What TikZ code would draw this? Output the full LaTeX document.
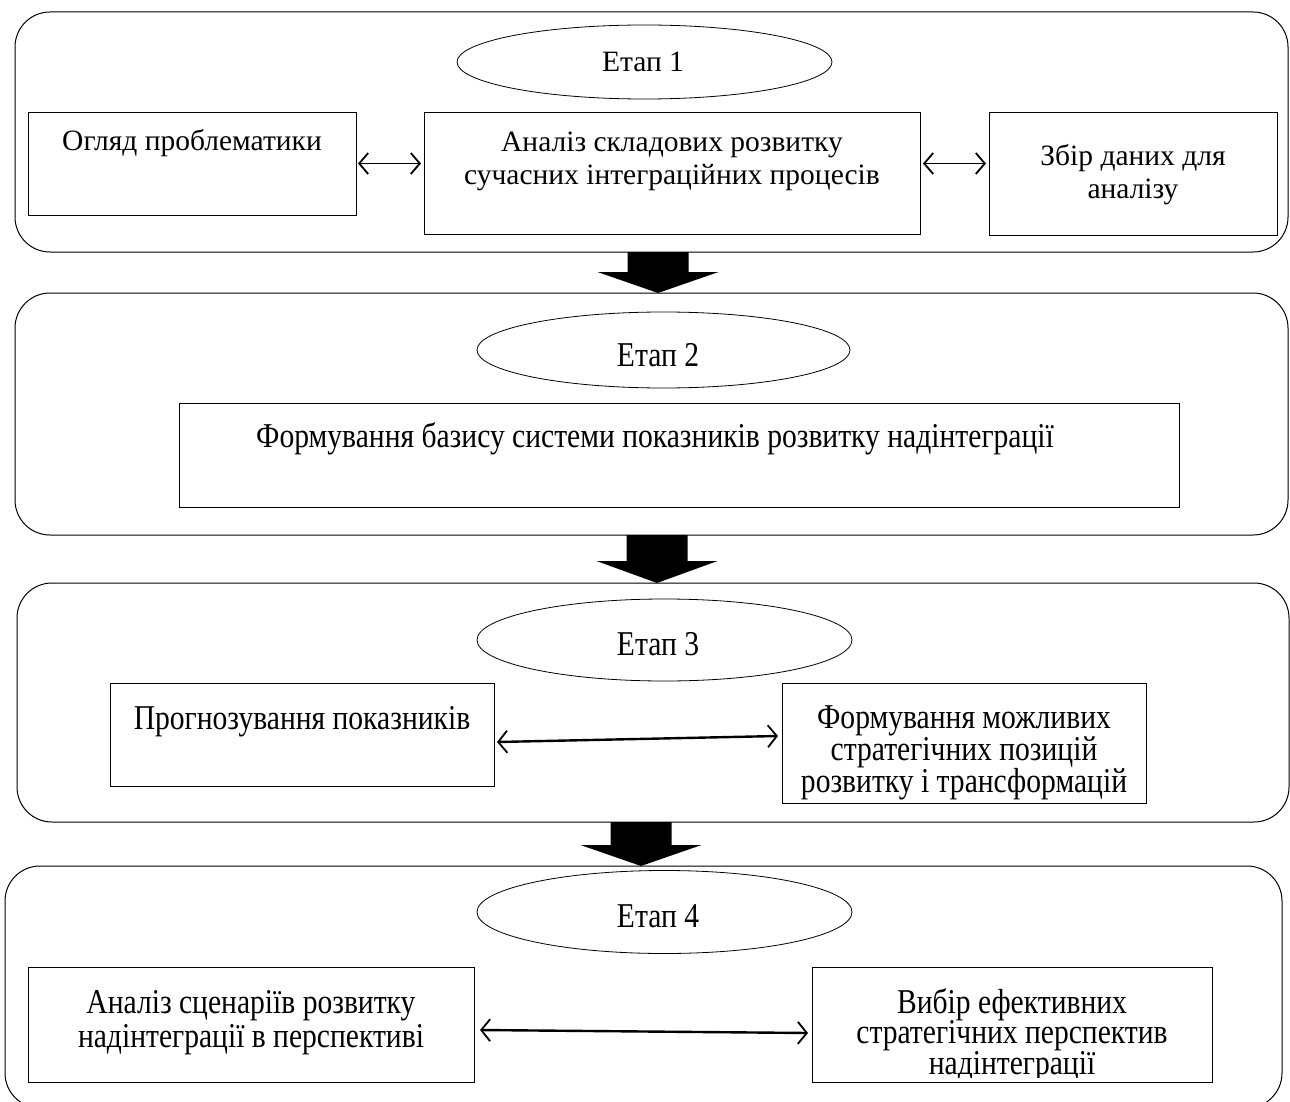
\documentclass[tikz,border=0pt]{standalone}
\usepackage{fontspec}
\setmainfont{Liberation Serif}
\newfontfamily\tallfont[FakeStretch=0.85]{Liberation Serif}
\usetikzlibrary{shapes.geometric,arrows.meta,calc}
\newcommand\mlines[1]{\vtop{\halign{\hfil##\hfil\cr#1\crcr}}}
\newcommand\blockarrow[4]{%
  \fill[black] (#1-30.5,#2) -- (#1+30.5,#2) -- (#1+30.5,#3) -- (#1+60.5,#3) -- (#1,#4)
    -- (#1-60.5,#3) -- (#1-30.5,#3) -- cycle;}
\begin{document}
\begin{tikzpicture}[x=1pt,y=-1pt,
  stage/.style={draw, rounded corners=35pt, line width=1pt, inner sep=0, outer sep=0, anchor=north west},
  box/.style={draw, line width=0.9pt, inner sep=0, outer sep=0, anchor=north west},
  oval/.style={draw, ellipse, line width=0.8pt, inner sep=0, outer sep=0},
  txtA/.style={font=\fontsize{29.5}{33}\selectfont, inner sep=0, anchor=base},
  txtB/.style={font=\tallfont\fontsize{34.8}{31}\selectfont, inner sep=0, anchor=base},
  dblA/.style={{Straight Barb[length=9pt,width=21pt,line width=1.8pt]}-{Straight Barb[length=9pt,width=21pt,line width=1.8pt]}, line width=1.5pt},
  dblB/.style={{Straight Barb[length=9pt,width=22pt,line width=1.8pt]}-{Straight Barb[length=9pt,width=22pt,line width=1.8pt]}, line width=2.4pt}
]
\useasboundingbox (0,0) rectangle (1290,1102);

% ---------------- Stage 1
\node[stage, minimum width=1273, minimum height=240] (s1) at (15,12) {};
\node[oval, minimum width=375, minimum height=74] (e1) at (644.5,62) {};
\node[txtA] (e1t) at (643,72) {Етап 1};
\node[box, minimum width=328, minimum height=103] (bA) at (28,112) {};
\node[box, minimum width=496, minimum height=122] (bB) at (424,112) {};
\node[box, minimum width=288, minimum height=123] (bC) at (989,112) {};
\node[txtA] (tA) at (192,151) {Огляд проблематики};
\node[txtA] (tB) at (672,152) {\mlines{Аналіз складових розвитку\cr сучасних інтеграційних процесів}};
\node[txtA] (tC) at (1133,166) {\mlines{Збір даних для\cr аналізу}};
\draw[dblA, shorten <=2pt, shorten >=3pt] (bA.east) -- (bA.east -| bB.west);
\draw[dblA, shorten <=3pt, shorten >=3pt] (bB.east |- bA.east) -- (bC.west |- bA.east);

\blockarrow{658}{252}{272}{293}

% ---------------- Stage 2
\node[stage, minimum width=1273, minimum height=242] (s2) at (15,293) {};
\node[oval, minimum width=373, minimum height=76] (e2) at (663.5,350) {};
\node[txtB] (e2t) at (658,366) {Етап 2};
\node[box, minimum width=1000, minimum height=104] (b2) at (179,403) {};
\node[txtB] (t2) at (655,447) {Формування базису системи показників розвитку надінтеграції};

\blockarrow{657}{535}{561}{583}

% ---------------- Stage 3
\node[stage, minimum width=1272, minimum height=239] (s3) at (17,583) {};
\node[oval, minimum width=375, minimum height=82] (e3) at (664.5,640) {};
\node[txtB] (e3t) at (658,655) {Етап 3};
\node[box, minimum width=384, minimum height=103] (b3a) at (110,683) {};
\node[box, minimum width=364, minimum height=120] (b3b) at (782,683) {};
\node[txtB] (t3a) at (302,729) {Прогнозування показників};
\node[txtB, font=\tallfont\fontsize{34.8}{30.5}\selectfont] (t3b) at (964,728) {\mlines{Формування можливих\cr стратегічних позицій\cr розвитку і трансформацій}};
\draw[dblB] ($(b3a.east)+(3,7.5)$) -- ($(b3b.west)+(-4,-7)$);

\blockarrow{641}{822}{845}{866}

% ---------------- Stage 4
\node[stage, minimum width=1277, minimum height=242] (s4) at (5,866) {};
\node[oval, minimum width=375, minimum height=83] (e4) at (664.5,912) {};
\node[txtB] (e4t) at (658,927) {Етап 4};
\node[box, minimum width=446, minimum height=115] (b4a) at (28,967) {};
\node[box, minimum width=400, minimum height=115] (b4b) at (812,967) {};
\node[txtB, font=\tallfont\fontsize{34.8}{34}\selectfont] (t4a) at (251,1013) {\mlines{Аналіз сценаріїв розвитку\cr надінтеграції в перспективі}};
\begin{scope}
  \clip (812,967) rectangle (1212,1077);
  \node[txtB, font=\tallfont\fontsize{34.8}{30.5}\selectfont] (t4b) at (1012,1013) {\mlines{Вибір ефективних\cr стратегічних перспектив\cr надінтеграції}};
\end{scope}
\draw[dblB] ($(b4a.east)+(6,5.5)$) -- ($(b4b.west)+(-4,8.5)$);
\end{tikzpicture}
\end{document}
